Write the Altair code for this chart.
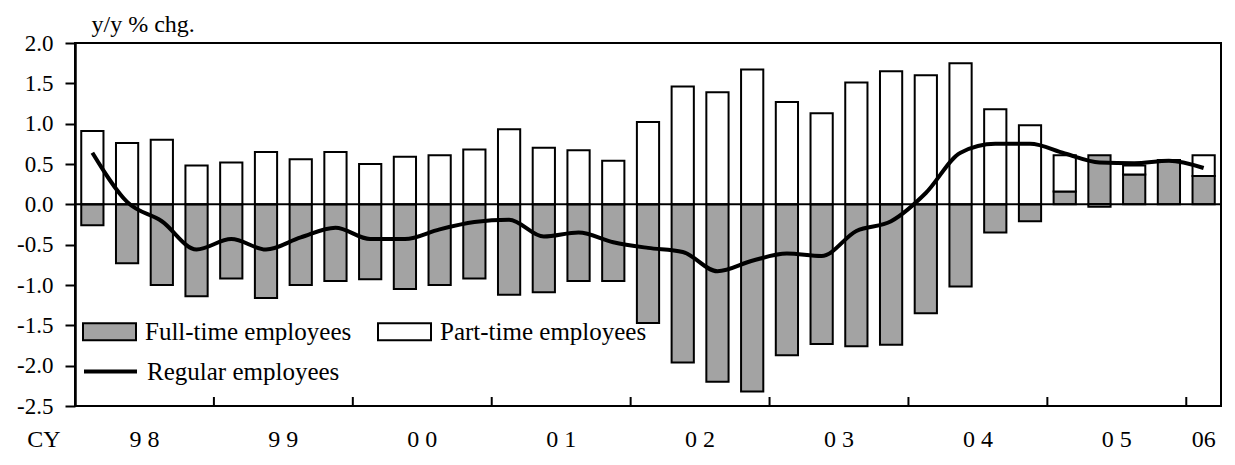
import altair as alt
import pandas as pd

# ---------------- data ----------------
years = ["98", "99", "00", "01", "02", "03", "04", "05", "06"]
year_labels = ["9 8", "9 9", "0 0", "0 1", "0 2", "0 3", "0 4", "0 5", "06"]
quarters_per_year = [4, 4, 4, 4, 4, 4, 4, 4, 1]

full_time = [-0.26, -0.73, -1.00, -1.14, -0.92, -1.16, -1.00, -0.95,
             -0.93, -1.05, -1.00, -0.92, -1.12, -1.09, -0.95, -0.95,
             -1.47, -1.96, -2.20, -2.32, -1.87, -1.73, -1.76, -1.74,
             -1.35, -1.02, -0.35, -0.21, 0.16, 0.61, 0.37, 0.55,
             0.35]
part_time = [0.91, 0.76, 0.80, 0.48, 0.52, 0.65, 0.56, 0.65,
             0.50, 0.59, 0.61, 0.68, 0.93, 0.70, 0.67, 0.54,
             1.02, 1.46, 1.39, 1.67, 1.27, 1.13, 1.51, 1.65,
             1.60, 1.75, 1.18, 0.98, 0.45, -0.03, 0.11, 0.00,
             0.26]
regular = [0.64, 0.03, -0.21, -0.56, -0.43, -0.56, -0.41, -0.29,
           -0.43, -0.43, -0.31, -0.22, -0.19, -0.40, -0.35, -0.47,
           -0.54, -0.59, -0.83, -0.70, -0.61, -0.64, -0.33, -0.21,
           0.14, 0.64, 0.75, 0.75, 0.63, 0.52, 0.51, 0.54,
           0.45]

series_names = ["Full-time employees", "Part-time employees"]
line_name = "Regular employees"

# ---------------- tables ----------------
quarter_ids = []
year_rows = []
start = 0
for y, lab, n in zip(years, year_labels, quarters_per_year):
    for q in range(1, n + 1):
        quarter_ids.append(f"{y}Q{q}")
    year_rows.append({"t": lab, "start": start, "n": n})
    start += n
n_q = len(quarter_ids)

bar_rows = []
for k, (ft, pt) in enumerate(zip(full_time, part_time)):
    pos_base, neg_base = 0.0, 0.0
    for name, v in zip(series_names, (ft, pt)):
        if v >= 0:
            lo, hi = pos_base, pos_base + v
            pos_base = hi
        else:
            lo, hi = neg_base + v, neg_base
            neg_base = lo
        bar_rows.append({"i": k, "q": quarter_ids[k], "series": name, "lo": lo, "hi": hi})
bars_df = pd.DataFrame(bar_rows)

line_df = pd.DataFrame({"i": list(range(n_q)), "v": regular, "lseries": [line_name] * n_q})
years_df = pd.DataFrame(year_rows)
bounds_df = years_df[years_df["start"] > 0][["start"]]

FONT = "Times New Roman, Liberation Serif, DejaVu Serif, serif"
W, H = 1146, 363

xs = alt.Scale(domain=[0, n_q], nice=False, zero=False)
ys = alt.Scale(domain=[-2.5, 2.0], nice=False, zero=False)
yaxis = alt.Axis(
    title="y/y % chg.", titleAngle=0, titleX=16, titleY=-12, titleAlign="left",
    titleBaseline="alphabetic", titleFont=FONT, titleFontSize=24, titleFontWeight="normal",
    titleColor="black",
    values=[-2.5, -2.0, -1.5, -1.0, -0.5, 0.0, 0.5, 1.0, 1.5, 2.0],
    labelExpr="replace(format(datum.value, '.1f'), '\u2212', '-')",
    labelFont=FONT, labelFontSize=23, labelColor="black", labelPadding=12,
    tickSize=10, tickWidth=2, tickColor="black",
    domainColor="black", domainWidth=2.5, grid=False,
)

bars = alt.Chart(bars_df).transform_calculate(
    x0="datum.i + 0.18", x1="datum.i + 0.82"
).mark_bar(stroke="black", strokeWidth=2).encode(
    x=alt.X("x0:Q", scale=xs, axis=None),
    x2="x1:Q",
    y=alt.Y("lo:Q", scale=ys, axis=yaxis),
    y2="hi:Q",
    fill=alt.Fill(
        "series:N",
        scale=alt.Scale(domain=series_names, range=["#a3a3a3", "white"]),
        legend=alt.Legend(
            orient="none", legendX=7, legendY=261, direction="horizontal", columns=2,
            title=None, padding=0,
            symbolType="M-1,-0.32L1,-0.32L1,0.32L-1,0.32Z", symbolSize=2809,
            symbolStrokeColor="black", symbolStrokeWidth=2,
            labelFont=FONT, labelFontSize=25, labelColor="black", labelOffset=8,
            labelLimit=400, columnPadding=22,
        ),
    ),
)

zero = alt.Chart(pd.DataFrame({"z": [0.0]})).mark_rule(color="black", strokeWidth=2).encode(
    y=alt.Y("z:Q", scale=ys, axis=yaxis)
)

line = alt.Chart(line_df).transform_calculate(xc="datum.i + 0.5").mark_line(
    strokeWidth=4, interpolate="monotone"
).encode(
    x=alt.X("xc:Q", scale=xs, axis=None),
    y=alt.Y("v:Q", scale=ys, axis=yaxis),
    stroke=alt.Stroke(
        "lseries:N",
        scale=alt.Scale(domain=[line_name], range=["black"]),
        legend=alt.Legend(
            orient="none", legendX=7, legendY=300, title=None, padding=0,
            symbolType="stroke", symbolSize=2809, symbolStrokeWidth=4,
            labelFont=FONT, labelFontSize=25, labelColor="black", labelOffset=8,
            labelLimit=400,
        ),
    ),
)

ticks = alt.Chart(bounds_df).mark_rule(color="black", strokeWidth=2).encode(
    x=alt.X("start:Q", scale=xs, axis=None),
    y=alt.value(H),
    y2=alt.value(H - 9),
)

year_text = alt.Chart(years_df).transform_calculate(
    c="datum.start + datum.n / 2"
).mark_text(font=FONT, fontSize=24, baseline="middle", align="center", color="black").encode(
    x=alt.X("c:Q", scale=xs, axis=None),
    y=alt.value(H + 34),
    text="t:N",
)

cy_text = alt.Chart(pd.DataFrame({"t": ["CY"]})).mark_text(
    font=FONT, fontSize=24, baseline="middle", align="center", color="black"
).encode(
    x=alt.value(-31),
    y=alt.value(H + 34),
    text="t:N",
)

chart = alt.layer(bars, zero, line, ticks, year_text, cy_text).properties(
    width=W, height=H,
    autosize=alt.AutoSizeParams(type="none"),
    padding={"left": 67, "top": 35, "right": 6, "bottom": 51},
    background="white",
).configure_view(stroke="black", strokeWidth=2)

chart.save("out.html", embed_options={"renderer": "svg", "actions": False})
